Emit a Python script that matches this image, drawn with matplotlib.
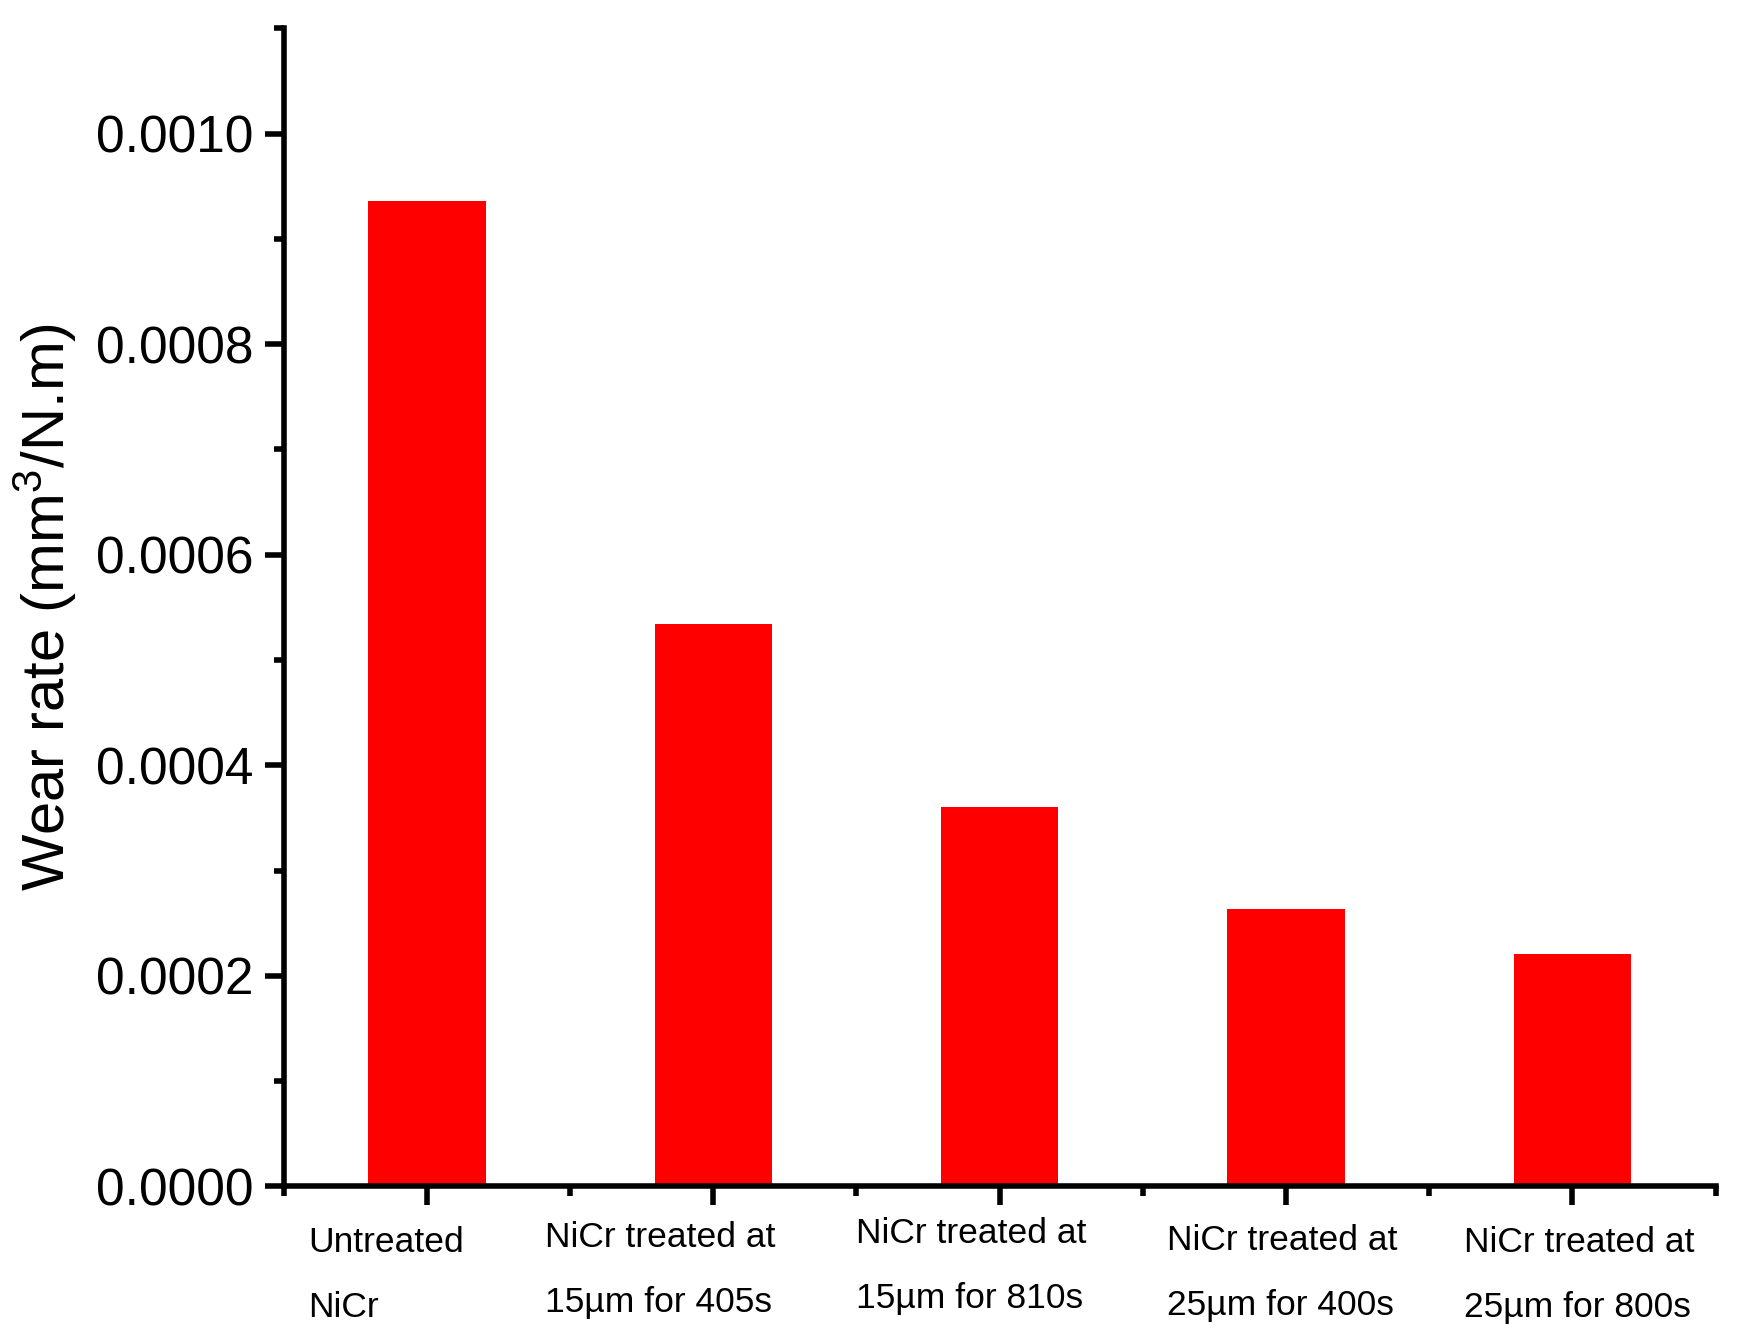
import matplotlib
matplotlib.use('Agg')
import matplotlib.pyplot as plt
import matplotlib.transforms as mtransforms
from matplotlib.ticker import MultipleLocator, FormatStrFormatter

plt.rcParams['font.family'] = ['Liberation Sans', 'DejaVu Sans']
plt.rcParams['mathtext.fontset'] = 'custom'
plt.rcParams['mathtext.rm'] = 'Liberation Sans'
plt.rcParams['mathtext.it'] = 'Liberation Sans'

labels = ['Untreated\nNiCr',
          'NiCr treated at\n15µm for 405s',
          'NiCr treated at\n15µm for 810s',
          'NiCr treated at\n25µm for 400s',
          'NiCr treated at\n25µm for 800s']
wear_rate = [0.000936, 0.000534, 0.000360, 0.000264, 0.000221]

# label shifts (px) relative to the tick, as placed in the original figure
label_dx = [-119, -168, -144, -119, -108]
label_dy = [-2, 3, 7, 0, -2]

fig = plt.figure(figsize=(17.4, 13.44), dpi=100)
ax = fig.add_axes([0.163, 0.1172, 0.823, 0.8618])

x = list(range(1, len(wear_rate) + 1))
ax.bar(x, wear_rate, width=0.41, color='#ff0000', edgecolor='none')

ax.set_xlim(0.5, 5.5)
ax.set_ylim(0, 0.0011)
ax.yaxis.set_major_locator(MultipleLocator(0.0002))
ax.yaxis.set_minor_locator(MultipleLocator(0.0001))
ax.yaxis.set_major_formatter(FormatStrFormatter('%.4f'))
ax.set_xticks(x)
ax.set_xticks([v + 0.5 for v in range(0, 6)], minor=True)
ax.set_xticklabels(labels, fontsize=25.5, ha='left', va='top', linespacing=2.25)

for s in ['top', 'right']:
    ax.spines[s].set_visible(False)
for s in ['left', 'bottom']:
    ax.spines[s].set_linewidth(4)

ax.tick_params(axis='both', which='major', direction='out', length=14, width=4)
ax.tick_params(axis='both', which='minor', direction='out', length=7, width=4)
ax.tick_params(axis='y', which='major', labelsize=37, pad=8)
ax.tick_params(axis='x', which='major', pad=13)

for lab, dx, dy in zip(ax.get_xticklabels(), label_dx, label_dy):
    off = mtransforms.ScaledTranslation(dx / 100, dy / 100, fig.dpi_scale_trans)
    lab.set_transform(lab.get_transform() + off)

ax.set_ylabel('Wear rate (mm$^3$/N.m)', fontsize=43, labelpad=12)

fig.savefig('out.png', dpi=100)
